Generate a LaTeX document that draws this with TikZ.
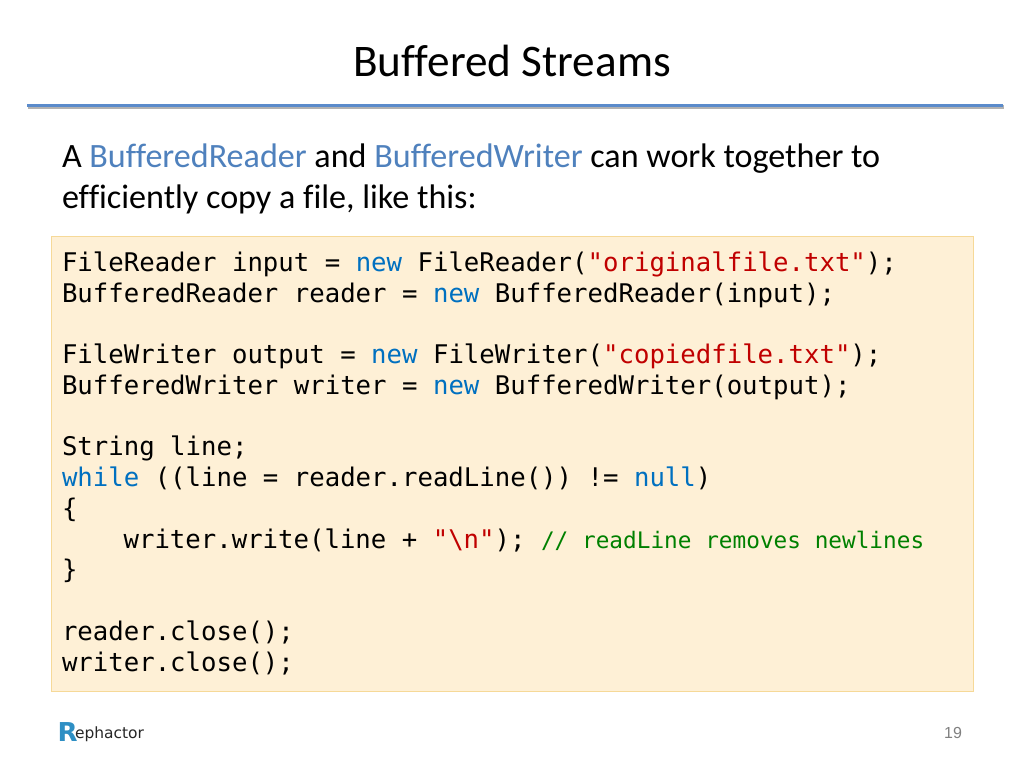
\documentclass[tikz,border=0pt]{standalone}
\usepackage{fontspec}
\setmainfont[Ligatures=NoCommon]{Carlito}
\newfontfamily\codefont{DejaVu Sans Mono}
\newfontfamily\logofont{DejaVu Sans}
\newfontfamily\numfont{Liberation Sans}
\definecolor{kwblue}{HTML}{0070C0}
\definecolor{strred}{HTML}{C00000}
\definecolor{cmtgreen}{HTML}{008000}
\definecolor{accent}{HTML}{4F81BD}
\definecolor{rulecol}{HTML}{5B8BCB}
\definecolor{boxfill}{HTML}{FEF0D6}
\definecolor{boxline}{HTML}{F6D998}
\definecolor{logoblue}{HTML}{2E8FC4}
\newcommand{\kw}[1]{\textcolor{kwblue}{#1}}
\newcommand{\str}[1]{\textcolor{strred}{#1}}
\newcommand{\cmt}[1]{\textcolor{cmtgreen}{\fontsize{17.05pt}{20pt}\selectfont #1}}
\newcommand{\acc}[1]{\textcolor{accent}{#1}}
\begin{document}
\begin{tikzpicture}[x=0.75pt,y=-0.75pt,
  txt/.style={inner sep=0pt,outer sep=0pt,anchor=base west},
  codeline/.style={txt,font=\codefont\fontsize{19.26pt}{22pt}\selectfont},
  bodyline/.style={txt,font=\fontsize{25.57pt}{30pt}\selectfont}]
\useasboundingbox (0,0) rectangle (1024,768);
\fill[white] (0,0) rectangle (1024,768);
\node[txt,anchor=base,font=\fontsize{33.9pt}{40pt}\selectfont] (title) at (512,76.5) {Buffered Streams};
\fill[black!30] (28,105) rectangle (1004,109);
\fill[rulecol] (27,103.5) rectangle (1003,107);
\node[bodyline] (b1) at (62,167) {A \acc{BufferedReader} and \acc{BufferedWriter} can work together to};
\node[bodyline] (b2) at (62,208.5) {efficiently copy a file, like this:};
\draw[boxline,fill=boxfill,line width=0.75pt] (51.5,236.5) rectangle (973,691.5);
\node[codeline] (c1) at (62,271) {FileReader input = \kw{new} FileReader(\str{"originalfile.txt"});};
\node[codeline] (c2) at (62,302) {BufferedReader reader = \kw{new} BufferedReader(input);};
\node[codeline] (c3) at (62,363) {FileWriter output = \kw{new} FileWriter(\str{"copiedfile.txt"});};
\node[codeline] (c4) at (62,394) {BufferedWriter writer = \kw{new} BufferedWriter(output);};
\node[codeline] (c5) at (62,455.5) {String line;};
\node[codeline] (c6) at (62,486.5) {\kw{while} ((line = reader.readLine()) != \kw{null})};
\node[codeline] (c7) at (62,517) {\{};
\node[codeline] (c8) at (123.6,548) {writer.write(line + \str{"\textbackslash n"}); \cmt{// readLine removes newlines}};
\node[codeline] (c9) at (62,578.5) {\}};
\node[codeline] (c10) at (62,640) {reader.close();};
\node[codeline] (c11) at (62,671) {writer.close();};
\node[txt,font=\logofont\bfseries\fontsize{19.5pt}{24pt}\selectfont,text=logoblue] (logoR) at (57.5,741.7) {R};
\node[txt,font=\logofont\fontsize{11.6pt}{14pt}\selectfont,text=black!85] (logotail) at (75,738) {ephactor};
\node[txt,anchor=base,font=\numfont\fontsize{12pt}{14pt}\selectfont,text=black!50] (pagenum) at (953,738.5) {19};
\end{tikzpicture}
\end{document}
